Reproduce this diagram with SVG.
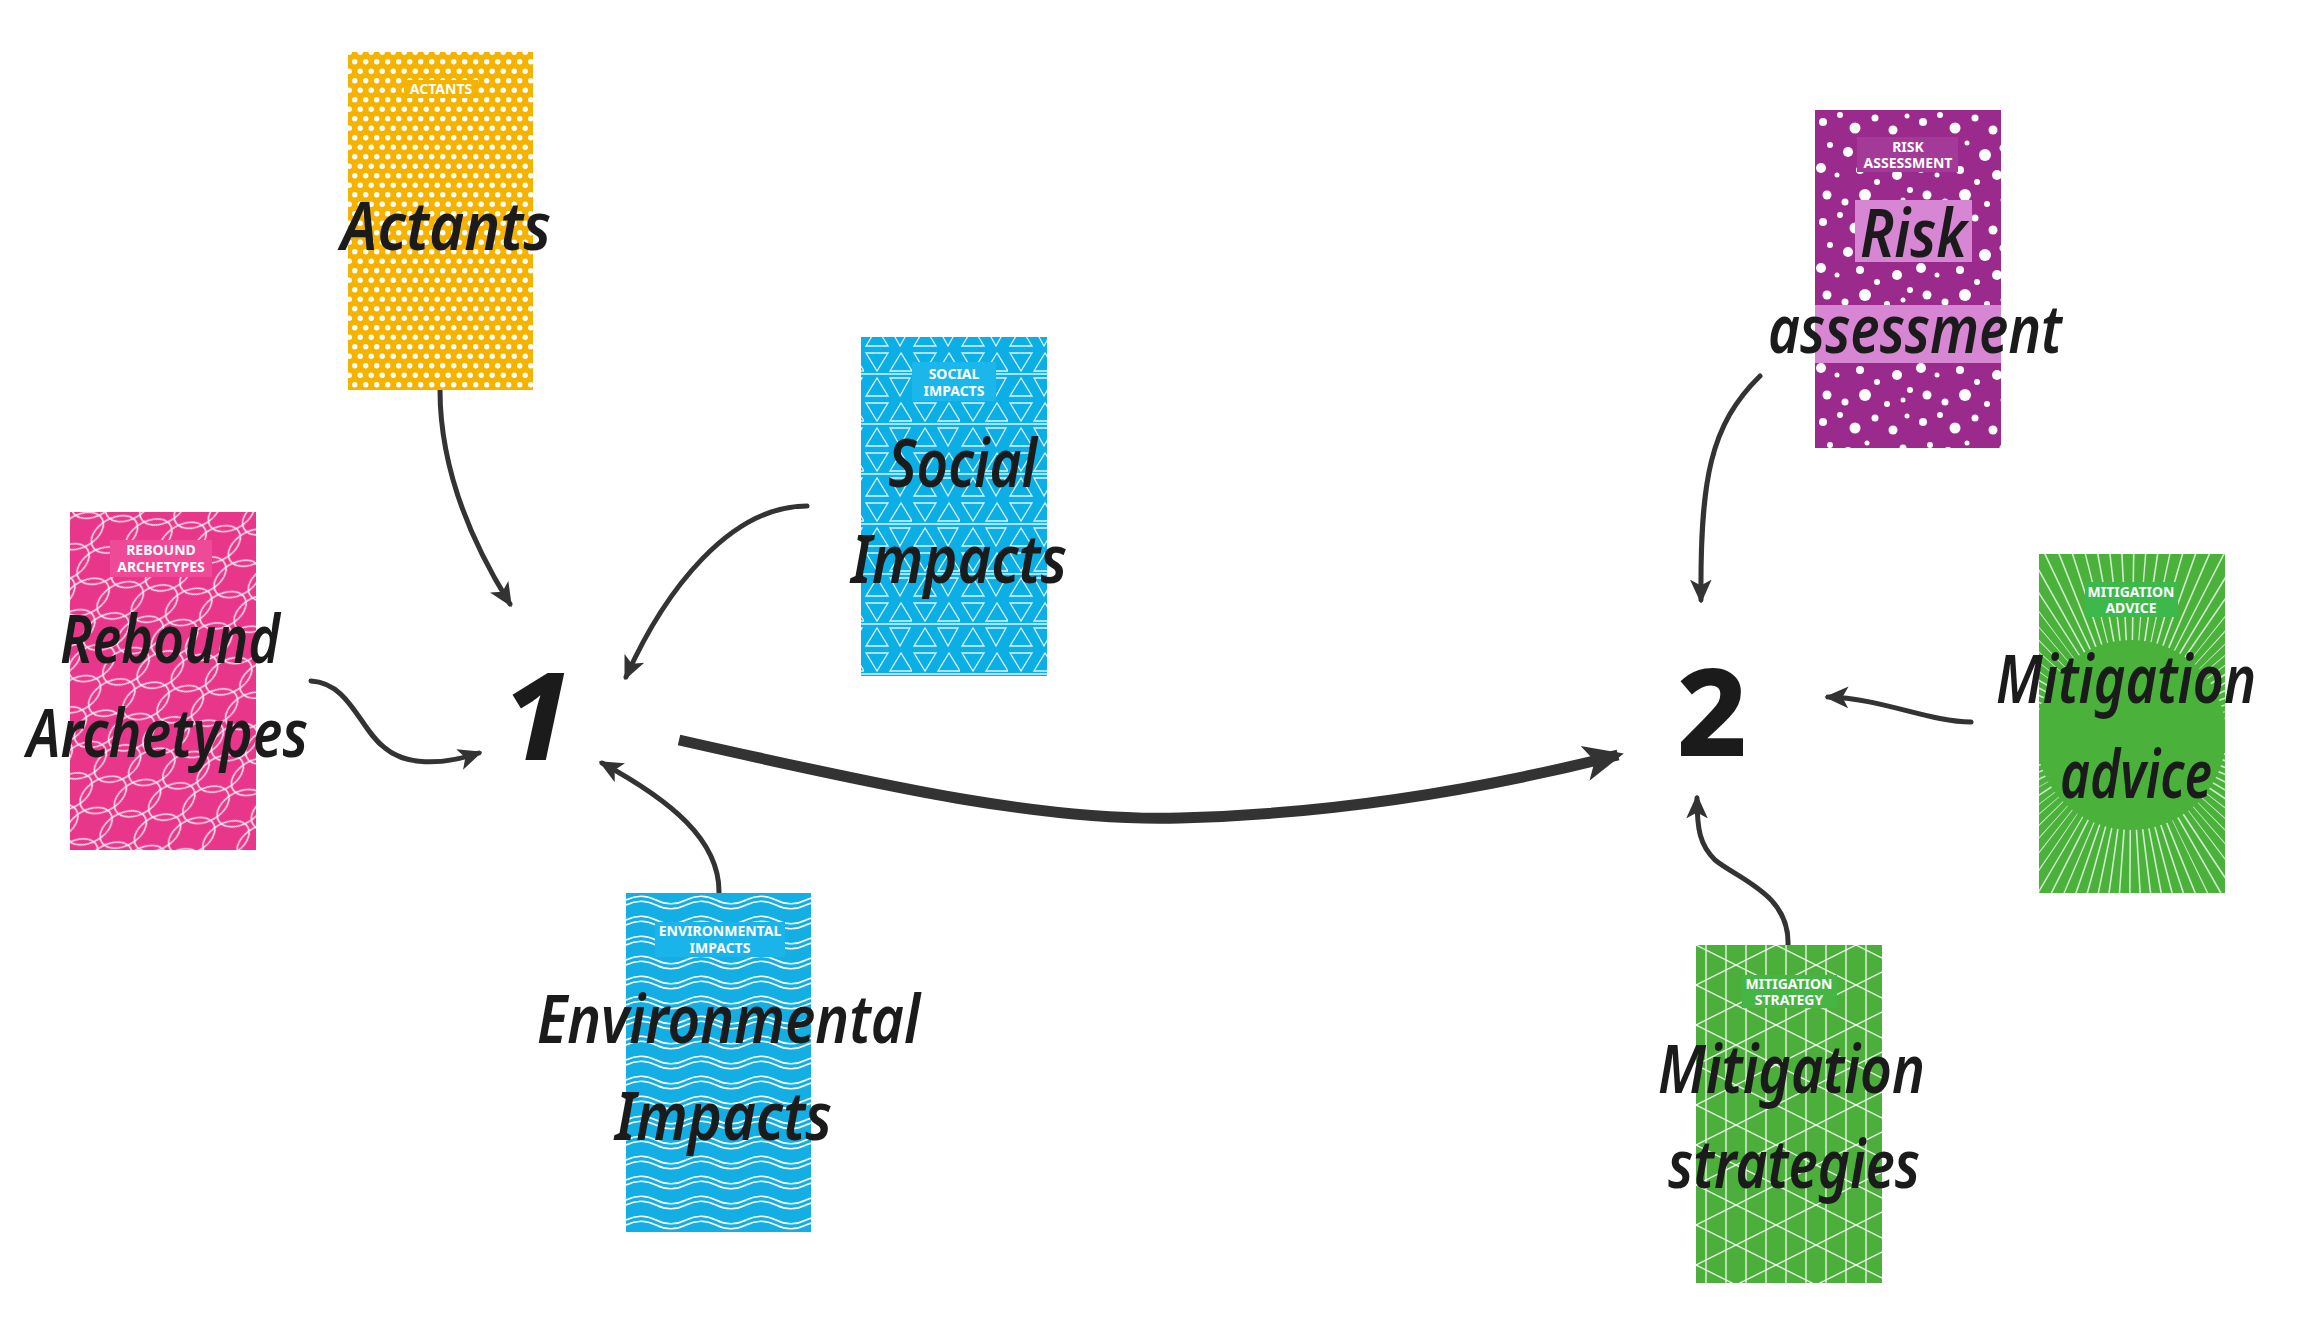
<svg xmlns="http://www.w3.org/2000/svg" xmlns:xlink="http://www.w3.org/1999/xlink" width="2312" height="1342" viewBox="0 0 2312 1342">
<style>
.hand{font-family:"Noto Sans","DejaVu Sans",sans-serif;font-style:italic;font-weight:600;font-size:66px;fill:#1b1b1b}
.lbl{font-family:"Noto Sans","Liberation Sans",sans-serif;font-weight:700;font-size:14px;fill:#fff;text-anchor:middle}
.num{font-family:"Noto Sans","DejaVu Sans",sans-serif;font-weight:800;font-size:122px;fill:#1b1b1b;text-anchor:middle}
.con{fill:none;stroke:#333;stroke-width:5;stroke-linecap:round;marker-end:url(#ah)}
</style>
<defs>
<marker id="ah" viewBox="0 0 20 20" refX="17" refY="10" markerUnits="userSpaceOnUse" markerWidth="24" markerHeight="24" orient="auto">
<path d="M0,1 L20,10 L0,19 L5,10 Z" fill="#333"/>
</marker>
<marker id="ahBig" viewBox="0 0 20 20" refX="17" refY="10" markerUnits="userSpaceOnUse" markerWidth="40" markerHeight="40" orient="auto">
<path d="M0,1 L20,10 L0,19 L5,10 Z" fill="#333"/>
</marker>
<pattern id="pDots" width="11" height="19" patternUnits="userSpaceOnUse">
<rect width="11" height="19" fill="#F5B300"/>
<circle cx="2.75" cy="4.75" r="2.7" fill="#fff"/>
<circle cx="8.25" cy="14.25" r="2.7" fill="#fff"/>
</pattern>
<pattern id="pTri" width="48" height="50" patternUnits="userSpaceOnUse">
<rect width="48" height="50" fill="#0BAFE5"/>
<g fill="none" stroke="#fff" stroke-width="1.3" stroke-opacity="0.85">
<path d="M2,3 H24 L13,21 Z"/>
<path d="M26,21 L37,3 L48,21 Z"/>
<path d="M0,24 H48"/>
<path d="M2,46 L13,28 L24,46 Z"/>
<path d="M26,28 H46 L36,46 Z"/>
</g>
</pattern>
<pattern id="pLoop" width="56" height="40" patternUnits="userSpaceOnUse" patternTransform="rotate(-30)">
<rect width="56" height="40" fill="#E8378A"/>
<g fill="none" stroke="#fff" stroke-width="1.6" stroke-opacity="0.85">
<ellipse cx="28" cy="20" rx="25" ry="16"/>
<ellipse cx="0" cy="0" rx="25" ry="16"/>
<ellipse cx="56" cy="0" rx="25" ry="16"/>
<ellipse cx="0" cy="40" rx="25" ry="16"/>
<ellipse cx="56" cy="40" rx="25" ry="16"/>
</g>
</pattern>
<pattern id="pWave" width="60" height="20" patternUnits="userSpaceOnUse" patternTransform="translate(626,893)">
<rect width="60" height="20" fill="#12AEE4"/>
<g fill="none" stroke="#fff" stroke-width="1.6">
<path d="M0,7 C10,2 20,2 30,7 S50,12 60,7"/>
<path d="M0,12 C10,7 20,7 30,12 S50,17 60,12"/>
</g>
</pattern>
<pattern id="pSpots" width="100" height="100" patternUnits="userSpaceOnUse" patternTransform="translate(1815,110)">
<rect width="100" height="100" fill="#9A2A8C"/>
<g fill="#fff">
<circle cx="8" cy="12" r="4"/><circle cx="25" cy="5" r="3"/><circle cx="40" cy="18" r="5.5"/><circle cx="60" cy="8" r="3.5"/>
<circle cx="78" cy="20" r="4.5"/><circle cx="92" cy="6" r="2.5"/><circle cx="15" cy="35" r="3"/><circle cx="33" cy="42" r="5"/>
<circle cx="52" cy="33" r="2.5"/><circle cx="70" cy="45" r="6"/><circle cx="88" cy="38" r="3.5"/><circle cx="6" cy="58" r="5"/>
<circle cx="22" cy="65" r="2.5"/><circle cx="45" cy="60" r="4"/><circle cx="62" cy="72" r="3"/><circle cx="82" cy="65" r="5"/>
<circle cx="95" cy="80" r="3"/><circle cx="12" cy="85" r="4.5"/><circle cx="30" cy="92" r="3.5"/><circle cx="50" cy="85" r="6"/>
<circle cx="72" cy="94" r="3"/><circle cx="88" cy="90" r="2.5"/>
</g>
</pattern>
<pattern id="pLattice" width="80" height="40" patternUnits="userSpaceOnUse" patternTransform="translate(1696,945)">
<rect width="80" height="40" fill="#4CAF3B"/>
<g fill="none" stroke="#fff" stroke-width="1.4" stroke-opacity="0.85">
<path d="M10,0 V40 M30,0 V40 M50,0 V40 M70,0 V40"/>
<path d="M0,0 L80,40 M0,-40 L80,0 M0,40 L80,80"/>
<path d="M0,40 L80,0 M0,80 L80,40 M0,0 L80,-40"/>
</g>
</pattern>
<clipPath id="clipAdvice"><rect x="2039" y="554" width="186" height="339"/></clipPath>
</defs>
<rect width="2312" height="1342" fill="#fff"/>

<g id="connectors">
<path class="con" d="M440,390 C440,462 465,532 510,604"/>
<path class="con" d="M807,506 C730,506 665,590 626,677"/>
<path class="con" d="M311,681 C350,683 360,730 385,748 C405,765 440,766 479,753"/>
<path class="con" d="M719,893 C720,840 670,800 602,763"/>
<path class="con" d="M1760,376 C1710,425 1700,480 1701,600"/>
<path class="con" d="M1971,722 C1930,722 1880,698 1828,697"/>
<path class="con" d="M1788,945 C1790,895 1740,880 1715,860 C1700,845 1697,830 1697,798"/>
<path d="M679,740 C900,790 1050,822 1180,818 C1330,814 1480,790 1618,755" fill="none" stroke="#333" stroke-width="11" stroke-linecap="butt" marker-end="url(#ahBig)"/>
</g>

<g id="node-1"><text class="num" x="537" y="760" font-style="italic">1</text></g>
<g id="node-2"><text class="num" x="1712" y="756">2</text></g>

<g id="actants">
<rect x="348" y="52" width="185" height="338" fill="url(#pDots)"/>
<rect x="404" y="80" width="74" height="18" fill="#F5B300"/>
<text class="lbl" x="441" y="94">ACTANTS</text>
<text class="hand" x="341" y="250" textLength="210" lengthAdjust="spacingAndGlyphs">Actants</text>
</g>

<g id="social-impacts">
<rect x="861" y="337" width="186" height="339" fill="url(#pTri)"/>
<rect x="912" y="362" width="84" height="39" fill="#1BB6EA"/>
<text class="lbl" x="954" y="379">SOCIAL</text>
<text class="lbl" x="954" y="396">IMPACTS</text>
<text class="hand" x="888" y="487" textLength="149" lengthAdjust="spacingAndGlyphs">Social</text>
<text class="hand" x="851" y="583" textLength="216" lengthAdjust="spacingAndGlyphs">Impacts</text>
</g>

<g id="rebound-archetypes">
<rect x="70" y="512" width="186" height="338" fill="url(#pLoop)"/>
<rect x="110" y="540" width="102" height="37" fill="#EE4A98"/>
<text class="lbl" x="161" y="555">REBOUND</text>
<text class="lbl" x="161" y="572">ARCHETYPES</text>
<text class="hand" x="60" y="663" textLength="220" lengthAdjust="spacingAndGlyphs">Rebound</text>
<text class="hand" x="27" y="757" textLength="281" lengthAdjust="spacingAndGlyphs">Archetypes</text>
</g>

<g id="environmental-impacts">
<rect x="626" y="893" width="185" height="339" fill="url(#pWave)"/>
<rect x="655" y="922" width="130" height="35" fill="#1BB4EA"/>
<text class="lbl" x="720" y="936">ENVIRONMENTAL</text>
<text class="lbl" x="720" y="953">IMPACTS</text>
<text class="hand" x="537" y="1043" textLength="383" lengthAdjust="spacingAndGlyphs">Environmental</text>
<text class="hand" x="615" y="1140" textLength="217" lengthAdjust="spacingAndGlyphs">Impacts</text>
</g>

<g id="risk-assessment">
<rect x="1815" y="110" width="186" height="338" fill="url(#pSpots)"/>
<rect x="1857" y="137" width="101" height="35" fill="#A43A98"/>
<text class="lbl" x="1908" y="152">RISK</text>
<text class="lbl" x="1908" y="168">ASSESSMENT</text>
<rect x="1855" y="200" width="117" height="62" fill="#D786D3"/>
<rect x="1815" y="305" width="186" height="58" fill="#D786D3"/>
<text class="hand" x="1860" y="257" textLength="107" lengthAdjust="spacingAndGlyphs">Risk</text>
<text class="hand" x="1768" y="353" textLength="294" lengthAdjust="spacingAndGlyphs">assessment</text>
</g>

<g id="mitigation-advice">
<rect x="2039" y="554" width="186" height="339" fill="#4AB23A"/>
<g clip-path="url(#clipAdvice)">
<circle cx="2131" cy="735" r="215" fill="none" stroke="#fff" stroke-opacity="0.75" stroke-width="270" stroke-dasharray="1.6 12.5"/>
<circle cx="2131" cy="735" r="95" fill="#4AB23A"/>
</g>
<rect x="2085" y="582" width="93" height="35" fill="#3DB84A"/>
<text class="lbl" x="2131" y="597">MITIGATION</text>
<text class="lbl" x="2131" y="613">ADVICE</text>
<text class="hand" x="1996" y="703" textLength="260" lengthAdjust="spacingAndGlyphs">Mitigation</text>
<text class="hand" x="2060" y="798" textLength="152" lengthAdjust="spacingAndGlyphs">advice</text>
</g>

<g id="mitigation-strategy">
<rect x="1696" y="945" width="186" height="338" fill="url(#pLattice)"/>
<rect x="1742" y="975" width="95" height="33" fill="#45B545"/>
<text class="lbl" x="1789" y="989">MITIGATION</text>
<text class="lbl" x="1789" y="1005">STRATEGY</text>
<text class="hand" x="1658" y="1093" textLength="267" lengthAdjust="spacingAndGlyphs">Mitigation</text>
<text class="hand" x="1668" y="1188" textLength="252" lengthAdjust="spacingAndGlyphs">strategies</text>
</g>
</svg>
